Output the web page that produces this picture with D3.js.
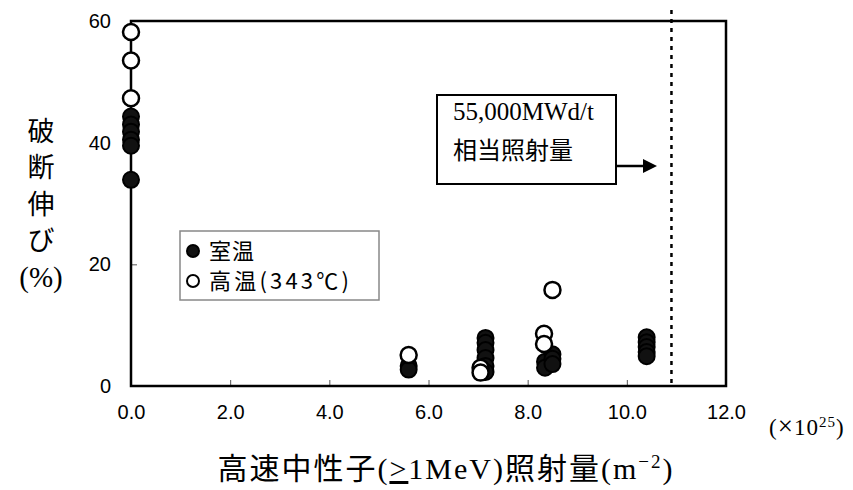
<!DOCTYPE html>
<html>
<head>
<meta charset="utf-8">
<script src="https://cdn.jsdelivr.net/npm/d3@7"></script>
<style>
  body { margin: 0; background: #fff; }
  .tick text { font-family: "Liberation Sans", Arial, sans-serif; font-size: 20px; fill: #000; }
  text { fill: #000; }
</style>
</head>
<body>
<div id="chart"></div>
<script>
// Data (fluence ×10^25 m^-2, elongation %)
const roomFluence = [0, 0, 0, 0, 0, 0, 5.6, 5.6, 7.15, 7.15, 7.15, 7.15, 7.15, 7.15, 8.35, 8.35, 8.5, 8.5, 8.5, 10.4, 10.4, 10.4, 10.4, 10.4];
const roomElong   = [44.3, 43.0, 41.8, 40.5, 39.5, 33.9, 3.3, 2.7, 7.9, 7.1, 5.9, 4.6, 3.3, 2.3, 4.0, 3.0, 5.2, 4.5, 3.6, 8.0, 7.2, 6.4, 5.6, 4.9];
const hotFluence  = [0, 0, 0, 5.6, 7.05, 7.05, 8.33, 8.33, 8.5];
const hotElong    = [58.2, 53.5, 47.3, 5.1, 3.0, 2.2, 8.6, 6.9, 15.8];

const xTicks = [0, 2, 4, 6, 8, 10, 12];
const yTicks = [0, 20, 40, 60];
const burnupFluence = 10.9;

const legendLabels = ["室温", "高温(343℃)"];
const yTitleChars = ["破", "断", "伸", "び", "(%)"];

const dimensions = {
  width: 853,
  height: 490,
  margin: { top: 21, right: 127, bottom: 104, left: 131 },
};
dimensions.containerWidth = dimensions.width - dimensions.margin.left - dimensions.margin.right;
dimensions.containerHeight = dimensions.height - dimensions.margin.top - dimensions.margin.bottom;

const svg = d3
  .select("#chart")
  .append("svg")
  .attr("width", dimensions.width)
  .attr("height", dimensions.height)
  .style("background", "#fff");

const container = svg
  .append("g")
  .attr("transform", `translate(${dimensions.margin.left}, ${dimensions.margin.top})`);

// Scales
const xScale = d3.scaleLinear().domain([0, 12]).range([0, dimensions.containerWidth]);
const yScale = d3.scaleLinear().domain([0, 60]).range([dimensions.containerHeight, 0]);

// Axes
const xAxis = d3
  .axisBottom(xScale)
  .tickValues(xTicks)
  .tickFormat(d3.format(".1f"))
  .tickSizeInner(-6)
  .tickSizeOuter(0)
  .tickPadding(19);
const yAxis = d3
  .axisLeft(yScale)
  .tickValues(yTicks)
  .tickFormat(d3.format("d"))
  .tickSizeInner(-6)
  .tickSizeOuter(0)
  .tickPadding(20);

const xAxisG = container
  .append("g")
  .attr("transform", `translate(0, ${dimensions.containerHeight})`)
  .call(xAxis);
const yAxisG = container.append("g").call(yAxis);
xAxisG.select(".domain").remove();
yAxisG.select(".domain").remove();
container.selectAll(".tick line").attr("stroke", "#555").attr("stroke-width", 1);

// Frame
container
  .append("rect")
  .attr("x", 0)
  .attr("y", 0)
  .attr("width", dimensions.containerWidth)
  .attr("height", dimensions.containerHeight)
  .attr("fill", "none")
  .attr("stroke", "#000")
  .attr("stroke-width", 2.5);

// 55,000 MWd/t line
container
  .append("line")
  .attr("x1", xScale(burnupFluence))
  .attr("x2", xScale(burnupFluence))
  .attr("y1", -11)
  .attr("y2", dimensions.containerHeight)
  .attr("stroke", "#000")
  .attr("stroke-width", 2.5)
  .attr("stroke-dasharray", "4 5");

// Points
const roomData = roomFluence.map((f, i) => ({ f, e: roomElong[i] }));
const hotData = hotFluence.map((f, i) => ({ f, e: hotElong[i] }));

container
  .append("g")
  .selectAll("circle")
  .data(roomData)
  .join("circle")
  .attr("cx", (d) => xScale(d.f))
  .attr("cy", (d) => yScale(d.e))
  .attr("r", 8)
  .attr("fill", "#111")
  .attr("stroke", "#000")
  .attr("stroke-width", 2);

container
  .append("g")
  .selectAll("circle")
  .data(hotData)
  .join("circle")
  .attr("cx", (d) => xScale(d.f))
  .attr("cy", (d) => yScale(d.e))
  .attr("r", 8)
  .attr("fill", "#fff")
  .attr("stroke", "#000")
  .attr("stroke-width", 2.5);

// Legend
const legend = svg.append("g").attr("transform", "translate(180, 231)");
legend
  .append("rect")
  .attr("width", 199)
  .attr("height", 69)
  .attr("fill", "#fff")
  .attr("stroke", "#888")
  .attr("stroke-width", 1.5);
legendLabels.forEach((label, i) => {
  const cy = 20 + i * 30;
  legend
    .append("circle")
    .attr("cx", 13)
    .attr("cy", cy)
    .attr("r", 6)
    .attr("fill", i === 0 ? "#111" : "#fff")
    .attr("stroke", "#000")
    .attr("stroke-width", 2);
  legend
    .append("text")
    .attr("x", 29)
    .attr("y", cy)
    .attr("dy", "0.36em")
    .attr("font-family", "'Noto Sans CJK JP', sans-serif")
    .attr("font-size", 22)
    .attr("letter-spacing", i === 0 ? 1 : 3.2)
    .text(label);
});

// Annotation box
const note = svg.append("g").attr("transform", "translate(437, 95)");
note
  .append("rect")
  .attr("width", 179)
  .attr("height", 89)
  .attr("fill", "#fff")
  .attr("stroke", "#000")
  .attr("stroke-width", 2);
note
  .append("text")
  .attr("x", 16)
  .attr("y", 25)
  .attr("font-family", "'Liberation Serif', 'Times New Roman', serif")
  .attr("font-size", 25)
  .text("55,000MWd/t");
note
  .append("text")
  .attr("x", 16)
  .attr("y", 55)
  .attr("dy", "0.36em")
  .attr("font-family", "'Noto Sans CJK JP', sans-serif")
  .attr("font-size", 24)
  .text("相当照射量");
note
  .append("line")
  .attr("x1", 179)
  .attr("x2", 208)
  .attr("y1", 71)
  .attr("y2", 71)
  .attr("stroke", "#000")
  .attr("stroke-width", 2.5);
note
  .append("path")
  .attr("d", "M206,64 L220,71 L206,78 Z")
  .attr("fill", "#000");

// Y title (stacked characters)
svg
  .append("g")
  .selectAll("text")
  .data(yTitleChars)
  .join("text")
  .attr("x", 41)
  .attr("y", (d, i) => 131 + i * 36.5)
  .attr("dy", "0.36em")
  .attr("text-anchor", "middle")
  .attr("font-family", (d) => (d === "(%)" ? "'Liberation Serif', serif" : "'Noto Sans CJK JP', sans-serif"))
  .attr("font-size", (d) => (d === "(%)" ? 29 : 27))
  .text((d) => d);

// X title
const xTitle = svg
  .append("text")
  .attr("x", 446)
  .attr("y", 479)
  .attr("text-anchor", "middle")
  .attr("font-family", "'Liberation Serif', 'Noto Sans CJK JP', serif")
  .attr("font-size", 30)
  .attr("letter-spacing", 2);
xTitle.append("tspan").text("高速中性子(");
xTitle.append("tspan").attr("text-decoration", "underline").text(">");
xTitle.append("tspan").text("1MeV)照射量(m");
xTitle.append("tspan").attr("font-size", 19).attr("dy", -11).text("−2");
xTitle.append("tspan").attr("dy", 11).text(")");

// unit
const unit = svg
  .append("text")
  .attr("x", 769)
  .attr("y", 435)
  .attr("font-family", "'Liberation Serif', serif")
  .attr("font-size", 23)
  .attr("letter-spacing", 1);
unit.append("tspan").text("(");
unit.append("tspan").attr("font-size", 27).text("×");
unit.append("tspan").text("10");
unit.append("tspan").attr("font-size", 15).attr("dy", -8).text("25");
unit.append("tspan").attr("dy", 8).text(")");
</script>
</body>
</html>
